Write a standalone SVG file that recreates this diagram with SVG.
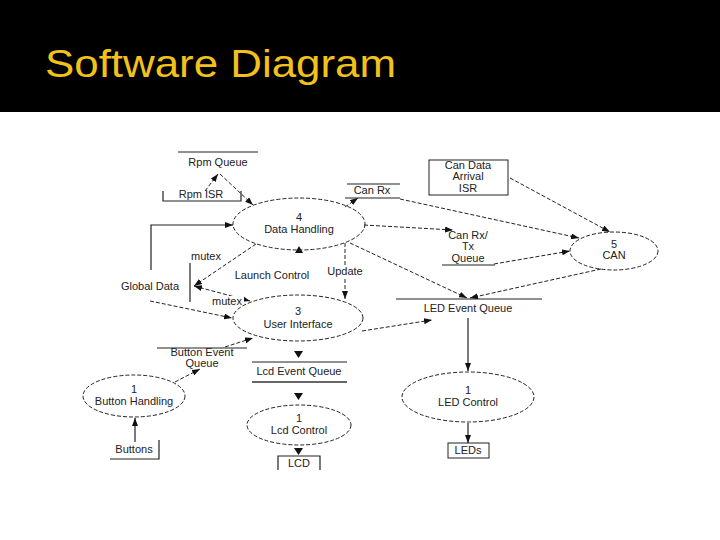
<svg xmlns="http://www.w3.org/2000/svg" width="720" height="540" viewBox="0 0 720 540">
<defs>
<marker id="ah" viewBox="0 0 8 6" refX="8" refY="3" markerWidth="8" markerHeight="6" markerUnits="userSpaceOnUse" orient="auto-start-reverse">
<path d="M0,0 L8,3 L0,6 z" fill="#111"/>
</marker>
<style>
.t{font-family:"Liberation Sans",Arial,sans-serif;font-size:11px;fill:#222;text-anchor:middle}
.p{fill:none;stroke:#222;stroke-width:1;stroke-dasharray:4,2}
.s{fill:none;stroke:#222;stroke-width:1.2}
.d{fill:none;stroke:#222;stroke-width:1;stroke-dasharray:4,2}
.l{stroke:#222;stroke-width:1.2;fill:none}
.bg{fill:#fff}
.tri{fill:#111}
</style>
</defs>
<rect x="0" y="0" width="720" height="540" fill="#fff"/>
<rect x="0" y="0" width="720" height="112" fill="#000"/>
<text x="45" y="77" font-family="'Liberation Sans',Arial,sans-serif" font-size="39" fill="#F2C21B" textLength="351" lengthAdjust="spacingAndGlyphs">Software Diagram</text>

<g id="connectors">
<path class="d" d="M205,191 L218,174" marker-end="url(#ah)"/>
<path class="d" d="M220,174 L253,205" marker-end="url(#ah)"/>
<path class="s" d="M151,270 L151,225 L233,225" marker-end="url(#ah)"/>
<path class="d" d="M256,244 L194,286" marker-end="url(#ah)"/>
<path class="d" d="M194,286 L250,301" marker-start="url(#ah)" marker-end="url(#ah)"/>
<path class="d" d="M345,243 L345,299" marker-end="url(#ah)"/>
<path class="d" d="M150,301 L232,318" marker-end="url(#ah)"/>
<path class="d" d="M225,347 L253,338" marker-end="url(#ah)"/>
<path class="d" d="M175,382 L200,369" marker-end="url(#ah)"/>
<path class="s" d="M135,442 L135,418" marker-end="url(#ah)"/>
<path class="d" d="M345,207 L358,198" marker-end="url(#ah)"/>
<path class="d" d="M400,199 L579,238" marker-end="url(#ah)"/>
<path class="d" d="M510,178 L610,232" marker-end="url(#ah)"/>
<path class="d" d="M364,225 L453,230" marker-end="url(#ah)"/>
<path class="d" d="M494,264 L570,251" marker-end="url(#ah)"/>
<path class="d" d="M350,243 L467,298" marker-end="url(#ah)"/>
<path class="d" d="M601,269 L470,298" marker-end="url(#ah)"/>
<path class="d" d="M362,331 L432,320" marker-end="url(#ah)"/>
<path class="s" d="M468,318 L468,371" marker-end="url(#ah)"/>
<path class="s" d="M468,423 L468,443" marker-end="url(#ah)"/>
<polygon class="tri" points="295,253 303,253 299,246"/>
<polygon class="tri" points="294,351 303,351 298.5,358"/>
<polygon class="tri" points="294,393 303,393 298.5,400"/>
<polygon class="tri" points="294,448 303,448 298.5,455"/>
<rect class="bg" x="188" y="250" width="36" height="12"/>
<text class="t" x="206" y="260">mutex</text>
<text class="t" x="272" y="279">Launch Control</text>
<rect class="bg" x="326" y="265" width="38" height="12"/>
<text class="t" x="345" y="275">Update</text>
<rect class="bg" x="210" y="296" width="34" height="11"/>
<text class="t" x="227" y="305">mutex</text>
</g>

<g id="rpm-queue">
<line class="l" x1="178" y1="152" x2="258" y2="152"/>
<text class="t" x="218" y="166">Rpm Queue</text>
</g>
<g id="rpm-isr">
<path class="l" d="M163,191 L163,201 L241,201 L241,191"/>
<text class="t" x="201" y="198">Rpm ISR</text>
</g>
<g id="data-handling">
<ellipse class="p" cx="299" cy="224" rx="66" ry="26"/>
<text class="t" x="299" y="221">4</text>
<text class="t" x="299" y="233">Data Handling</text>
</g>
<g id="global-data">
<line class="l" x1="190" y1="263" x2="190" y2="302"/>
<text class="t" x="150" y="290">Global Data</text>
</g>
<g id="user-interface">
<ellipse class="p" cx="298" cy="318" rx="65" ry="23"/>
<text class="t" x="298" y="315">3</text>
<text class="t" x="298" y="328">User Interface</text>
</g>
<g id="button-event-queue">
<line class="l" x1="157" y1="348" x2="247" y2="348"/>
<text class="t" x="202" y="356">Button Event</text>
<text class="t" x="202" y="367">Queue</text>
</g>
<g id="button-handling">
<ellipse class="p" cx="134" cy="396" rx="51" ry="21"/>
<text class="t" x="134" y="393">1</text>
<text class="t" x="134" y="405">Button Handling</text>
</g>
<g id="buttons">
<path class="l" d="M110,459 L159,459 L159,440"/>
<text class="t" x="134" y="453">Buttons</text>
</g>
<g id="lcd-event-queue">
<line class="l" x1="252" y1="362" x2="347" y2="362"/>
<line x1="252" y1="382" x2="347" y2="382" stroke="#666" stroke-width="2"/>
<text class="t" x="299" y="375">Lcd Event Queue</text>
</g>
<g id="lcd-control">
<ellipse class="p" cx="299" cy="425" rx="52" ry="20"/>
<text class="t" x="299" y="422">1</text>
<text class="t" x="299" y="434">Lcd Control</text>
</g>
<g id="lcd">
<path class="l" d="M278,470 L278,456 L320,456 L320,470"/>
<text class="t" x="299" y="467">LCD</text>
</g>
<g id="can-rx">
<line class="l" x1="347" y1="184" x2="400" y2="184"/>
<line class="l" x1="345" y1="198" x2="400" y2="198"/>
<text class="t" x="372" y="194">Can Rx</text>
</g>
<g id="can-data-arrival-isr">
<rect x="429" y="160" width="79" height="35" fill="none" stroke="#222" stroke-width="1"/>
<text class="t" x="468" y="169">Can Data</text>
<text class="t" x="468" y="180">Arrival</text>
<text class="t" x="468" y="192">ISR</text>
</g>
<g id="can-rxtx-queue">
<line class="l" x1="442" y1="265" x2="495" y2="265"/>
<text class="t" x="468" y="239">Can Rx/</text>
<text class="t" x="468" y="250">Tx</text>
<text class="t" x="468" y="262">Queue</text>
</g>
<g id="can">
<ellipse class="p" cx="614" cy="251" rx="44" ry="19"/>
<text class="t" x="614" y="248">5</text>
<text class="t" x="614" y="259">CAN</text>
</g>
<g id="led-event-queue">
<line class="l" x1="396" y1="299" x2="542" y2="299"/>
<text class="t" x="468" y="312">LED Event Queue</text>
</g>
<g id="led-control">
<ellipse class="p" cx="468" cy="397" rx="66" ry="25"/>
<text class="t" x="468" y="394">1</text>
<text class="t" x="468" y="406">LED Control</text>
</g>
<g id="leds">
<rect x="448" y="443" width="41" height="15" fill="none" stroke="#222" stroke-width="1"/>
<text class="t" x="468" y="454">LEDs</text>
</g>
</svg>
